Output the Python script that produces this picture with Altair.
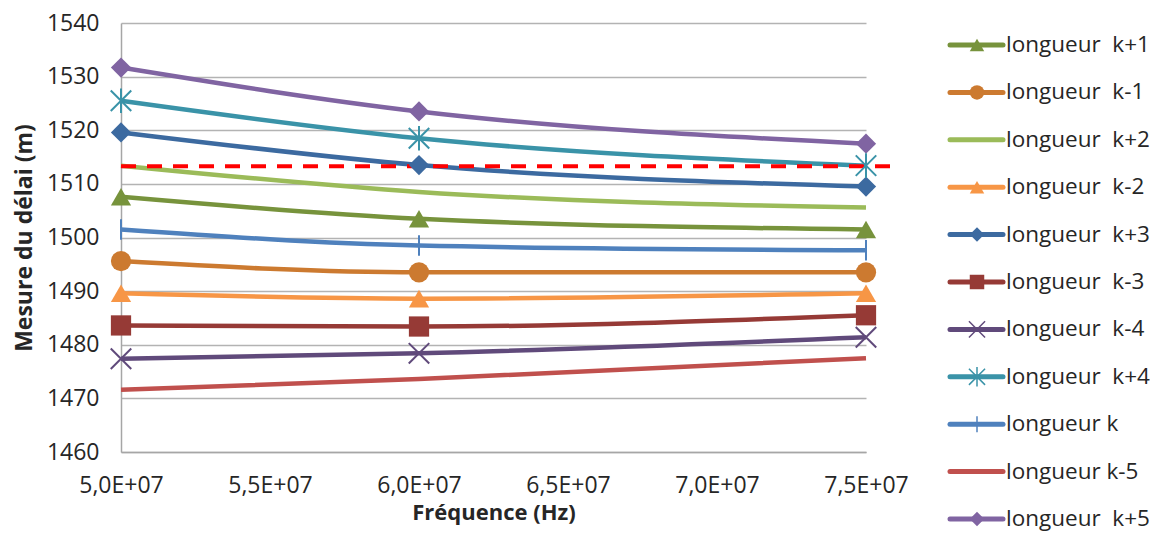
import altair as alt
import pandas as pd

# ---------------- data ----------------
freq = [5.0e7, 6.0e7, 7.5e7]

series_names = [
    "longueur\u00a0 k+1", "longueur\u00a0 k-1", "longueur\u00a0 k+2", "longueur\u00a0 k-2",
    "longueur\u00a0 k+3", "longueur\u00a0 k-3", "longueur\u00a0 k-4", "longueur\u00a0 k+4",
    "longueur k", "longueur k-5", "longueur\u00a0 k+5",
]

k_plus_1 = [1507.6, 1503.5, 1501.5]
k_minus_1 = [1495.6, 1493.5, 1493.5]
k_plus_2 = [1513.4, 1508.5, 1505.6]
k_minus_2 = [1489.6, 1488.6, 1489.6]
k_plus_3 = [1519.6, 1513.5, 1509.5]
k_minus_3 = [1483.6, 1483.4, 1485.5]
k_minus_4 = [1477.4, 1478.4, 1481.4]
k_plus_4 = [1525.5, 1518.5, 1513.4]
k_zero = [1501.5, 1498.5, 1497.6]
k_minus_5 = [1471.6, 1473.6, 1477.5]
k_plus_5 = [1531.7, 1523.5, 1517.5]

series_values = [k_plus_1, k_minus_1, k_plus_2, k_minus_2, k_plus_3, k_minus_3,
                 k_minus_4, k_plus_4, k_zero, k_minus_5, k_plus_5]

series_colors = ["#77933C", "#CC7A30", "#9BBB59", "#F79646", "#3C6AA0", "#963A36",
                 "#604A7B", "#3A93A8", "#4F81BD", "#C0504D", "#8064A2"]

marker_shapes = ["triangle-up", "circle", None, "triangle-up", "diamond", "square",
                 "M-1,-1L1,1M1,-1L-1,1",
                 "M-1,-1L1,1M1,-1L-1,1M0,-1.2L0,1.2",
                 "M0,-1L0,1",
                 None, "diamond"]
marker_filled = [True, True, None, True, True, True, False, False, False, None, True]

y_ticks = [1460, 1470, 1480, 1490, 1500, 1510, 1520, 1530, 1540]
x_ticks = [5.0e7, 5.5e7, 6.0e7, 6.5e7, 7.0e7, 7.5e7]

threshold_value = [1513.3]
threshold_start = [5.0e7]
threshold_end = [7.6e7]

# ---------------- tables ----------------
rows = []
for name, vals in zip(series_names, series_values):
    for f, v in zip(freq, vals):
        rows.append({"series": name, "freq": f, "value": v})
df = pd.DataFrame(rows)

shape_domain = [n for n, s in zip(series_names, marker_shapes) if s is not None]
shape_range = [s for s in marker_shapes if s is not None]
filled_names = [n for n, f in zip(series_names, marker_filled) if f is True]
stroked_names = [n for n, f in zip(series_names, marker_filled) if f is False]

df_filled = df[df["series"].isin(filled_names)]
df_stroked = df[df["series"].isin(stroked_names)]

thr = pd.DataFrame({"x0": threshold_start, "x1": threshold_end, "y": threshold_value})

FONT = "Open Sans"
TXT = "#262626"

color_scale = alt.Scale(domain=series_names, range=series_colors)
shape_scale = alt.Scale(domain=shape_domain, range=shape_range)

x_enc = alt.X(
    "freq:Q",
    scale=alt.Scale(domain=[5.0e7, 7.5e7], nice=False, zero=False),
    axis=alt.Axis(
        values=x_ticks,
        labelExpr="replace(replace(upper(format(datum.value, '.1e')), '.', ','), 'E+', 'E+0')",
        grid=False, ticks=False, title="Fréquence (Hz)",
        labelFlush=False, labelOverlap=False, labelPadding=22, titlePadding=5,
        titleFontSize=22,
        domainColor="#A6A6A6", domainWidth=1.5,
    ),
)
y_enc = alt.Y(
    "value:Q",
    scale=alt.Scale(domain=[1460, 1540], nice=False, zero=False),
    axis=alt.Axis(
        values=y_ticks, grid=True, ticks=False, title="Mesure du délai (m)", format="d",
        labelFlush=False, labelOverlap=False, labelPadding=22, titlePadding=10,
        domainColor="#A6A6A6", domainWidth=1.5, gridColor="#B3B3B3", gridWidth=1.5,
    ),
)

lines = alt.Chart(df).mark_line(strokeWidth=4.5, interpolate="monotone").encode(
    x=x_enc, y=y_enc,
    color=alt.Color("series:N", scale=color_scale, legend=None),
    detail="series:N",
)

threshold = alt.Chart(thr).mark_rule(
    color="#FF0000", strokeWidth=4, strokeDash=[15, 11], clip=False
).encode(x="x0:Q", x2="x1:Q", y="y:Q")

pts_filled = alt.Chart(df_filled).mark_point(filled=True, size=410, opacity=1).encode(
    x="freq:Q", y="value:Q",
    color=alt.Color("series:N", scale=color_scale, legend=None),
    shape=alt.Shape("series:N", scale=shape_scale, legend=None),
)
pts_stroked = alt.Chart(df_stroked).mark_point(filled=False, size=420, strokeWidth=2, opacity=1).encode(
    x="freq:Q", y="value:Q",
    color=alt.Color("series:N", scale=color_scale, legend=None),
    shape=alt.Shape("series:N", scale=shape_scale, legend=None),
)

main = alt.layer(lines, threshold, pts_filled, pts_stroked).properties(width=745, height=429)

# ---------------- legend panel ----------------
leg = pd.DataFrame({"series": series_names})
leg_filled = leg[leg["series"].isin(filled_names)]
leg_stroked = leg[leg["series"].isin(stroked_names)]
y_leg = alt.Y("series:N", sort=series_names, axis=None,
              scale=alt.Scale(type="point", range=[22, 496], padding=0))

leg_line = alt.Chart(leg).mark_rule(strokeWidth=5, strokeCap="round").encode(
    x=alt.value(9), x2=alt.value(62), y=y_leg,
    color=alt.Color("series:N", scale=color_scale, legend=None),
)
leg_pf = alt.Chart(leg_filled).mark_point(filled=True, size=210, opacity=1).encode(
    x=alt.value(36), y=y_leg,
    color=alt.Color("series:N", scale=color_scale, legend=None),
    shape=alt.Shape("series:N", scale=shape_scale, legend=None),
)
leg_ps = alt.Chart(leg_stroked).mark_point(filled=False, size=260, strokeWidth=1.5, opacity=1).encode(
    x=alt.value(36), y=y_leg,
    color=alt.Color("series:N", scale=color_scale, legend=None),
    shape=alt.Shape("series:N", scale=shape_scale, legend=None),
)
leg_txt = alt.Chart(leg).mark_text(align="left", baseline="middle", font=FONT, fontSize=22.5, color=TXT).encode(
    x=alt.value(65), y=y_leg, text="series:N",
)
legend = alt.layer(leg_line, leg_pf, leg_ps, leg_txt).properties(width=208, height=496)

chart = alt.hconcat(main, legend, spacing=32).properties(
    padding={"left": 5, "top": 4, "right": 0, "bottom": 0}
).configure_view(stroke=None).configure_axis(
    labelFont=FONT, labelFontSize=23, labelColor=TXT,
    titleFont=FONT, titleFontSize=23, titleFontWeight="bold", titleColor=TXT,
)

chart.save("out.html", embed_options={"renderer": "svg", "actions": False})
